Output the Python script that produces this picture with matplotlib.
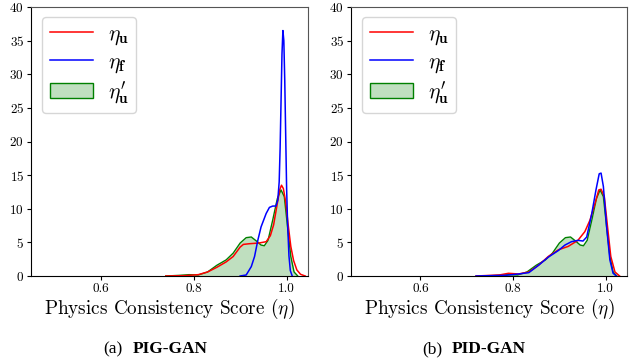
import matplotlib
matplotlib.use("Agg")
import matplotlib.pyplot as plt
from matplotlib.patches import Patch
from matplotlib.lines import Line2D

plt.rcParams['font.family'] = 'cmr10'
plt.rcParams['mathtext.fontset'] = 'cm'
plt.rcParams['axes.formatter.use_mathtext'] = True

# ---- data (density curves) ----
# PIG-GAN
pig_u_x = [0.74, 0.78, 0.81, 0.83, 0.85, 0.87, 0.885, 0.9, 0.907, 0.92, 0.94, 0.956, 0.965, 0.972,
           0.98, 0.985, 0.989, 0.993, 0.998, 1.003, 1.009, 1.015, 1.022, 1.03, 1.04]
pig_u_y = [0, 0.05, 0.2, 0.6, 1.3, 2.1, 2.9, 4.3, 4.7, 4.8, 4.9, 5.1, 6.0, 7.6,
           10.8, 12.8, 13.5, 13.0, 11.0, 7.8, 4.4, 2.3, 0.9, 0.25, 0]
pig_f_x = [0.90, 0.913, 0.924, 0.931, 0.938, 0.945, 0.956, 0.963, 0.97, 0.977, 0.981, 0.984,
           0.986, 0.988, 0.99, 0.992, 0.994, 0.996, 0.998, 1.0, 1.002, 1.005, 1.008, 1.012]
pig_f_y = [0, 0.15, 1.4, 2.9, 5.3, 7.3, 9.3, 10.2, 10.4, 10.4, 11.3, 14,
           19, 26, 33, 36.5, 35, 29, 21, 13, 8, 3, 0.8, 0]
# ground truth (same in both panels)
gt_x = [0.74, 0.77, 0.79, 0.81, 0.83, 0.85, 0.87, 0.885, 0.9, 0.913, 0.924, 0.935, 0.945, 0.952,
        0.96, 0.97, 0.98, 0.988, 0.995, 1.002, 1.009, 1.016, 1.024]
gt_y = [0, 0.1, 0.2, 0.15, 0.6, 1.6, 2.4, 3.4, 4.9, 5.7, 5.8, 5.2, 4.6, 4.5,
        5.3, 8.3, 11.5, 12.8, 11.8, 7.3, 2.9, 0.6, 0]
# PID-GAN
pid_u_x = [0.72, 0.77, 0.79, 0.812, 0.834, 0.855, 0.876, 0.898, 0.919, 0.94, 0.955, 0.966,
           0.977, 0.985, 0.99, 0.997, 1.004, 1.011, 1.02, 1.03]
pid_u_y = [0, 0.15, 0.4, 0.3, 0.6, 1.6, 2.9, 3.9, 4.4, 5.3, 6.6, 8.3,
           10.8, 12.8, 12.9, 11.8, 7.3, 2.9, 0.6, 0]
pid_f_x = [0.72, 0.784, 0.812, 0.834, 0.855, 0.876, 0.898, 0.912, 0.926, 0.94, 0.951, 0.959,
           0.97, 0.979, 0.986, 0.99, 0.995, 1.002, 1.009, 1.016, 1.023]
pid_f_y = [0, 0.1, 0.3, 0.5, 1.6, 2.8, 3.8, 4.6, 5.1, 5.3, 5.2, 5.8,
           9.3, 12.8, 15.2, 15.3, 13.3, 7.3, 2.4, 0.4, 0]

x_ticks = [0.6, 0.8, 1.0]
y_ticks = [0, 5, 10, 15, 20, 25, 30, 35, 40]
captions = [("(a)", "PIG-GAN"), ("(b)", "PID-GAN")]
labels = [r'$\eta_{\mathbf{u}}$', r'$\eta_{\mathbf{f}}$', r"$\eta^{\prime}_{\mathbf{u}}$"]

W, H = 641, 362
fig = plt.figure(figsize=(W / 100, H / 100), dpi=100)
axes_px = [(31, 7, 277, 269), (351, 7, 276, 269)]
panels = [(pig_u_x, pig_u_y, pig_f_x, pig_f_y), (pid_u_x, pid_u_y, pid_f_x, pid_f_y)]
cap_px = [(103, 133), (422, 452)]

for i, (l, t, w, h) in enumerate(axes_px):
    ax = fig.add_axes([l / W, (H - t - h) / H, w / W, h / H])
    ux, uy, fx, fy = panels[i]
    ax.fill_between(gt_x, gt_y, color='green', alpha=0.25, linewidth=0)
    ax.plot(gt_x, gt_y, color='green', lw=1.0)
    ax.plot(ux, uy, color='red', lw=1.1)
    ax.plot(fx, fy, color='blue', lw=1.1)
    ax.set_xlim(0.45, 1.046)
    ax.set_ylim(0, 40)
    ax.set_xticks(x_ticks)
    ax.set_yticks(y_ticks)
    ax.set_xticklabels([f"{v:.1f}" for v in x_ticks])
    ax.tick_params(labelsize=9.5, length=3, width=0.8, pad=2)
    for s in ['top', 'right']:
        ax.spines[s].set_color('#555555')
    for s in ['left', 'bottom']:
        ax.spines[s].set_color('black')
    ax.set_xlabel(r'Physics Consistency Score ($\eta$)', fontsize=13.8, labelpad=1)
    handles = [Line2D([], [], color='red', lw=1.1),
               Line2D([], [], color='blue', lw=1.1),
               Patch(facecolor=(0, 0.5, 0, 0.25), edgecolor='green', lw=1.0)]
    ax.legend(handles, labels, loc='upper left', fontsize=15.5, handlelength=2.0,
              borderpad=0.35, labelspacing=0.22, handletextpad=0.7, framealpha=0.8,
              edgecolor='#cccccc', bbox_to_anchor=(0.04, 0.963), borderaxespad=0)
    a, b = captions[i]
    x0, x1 = cap_px[i]
    fig.text(x0 / W, 1 - 353 / H, a, family='Liberation Serif', fontsize=12.5, va='baseline')
    fig.text(x1 / W, 1 - 353 / H, b, family='Liberation Serif', fontsize=12.5,
             weight='bold', va='baseline')

fig.savefig('out.png', dpi=100)
